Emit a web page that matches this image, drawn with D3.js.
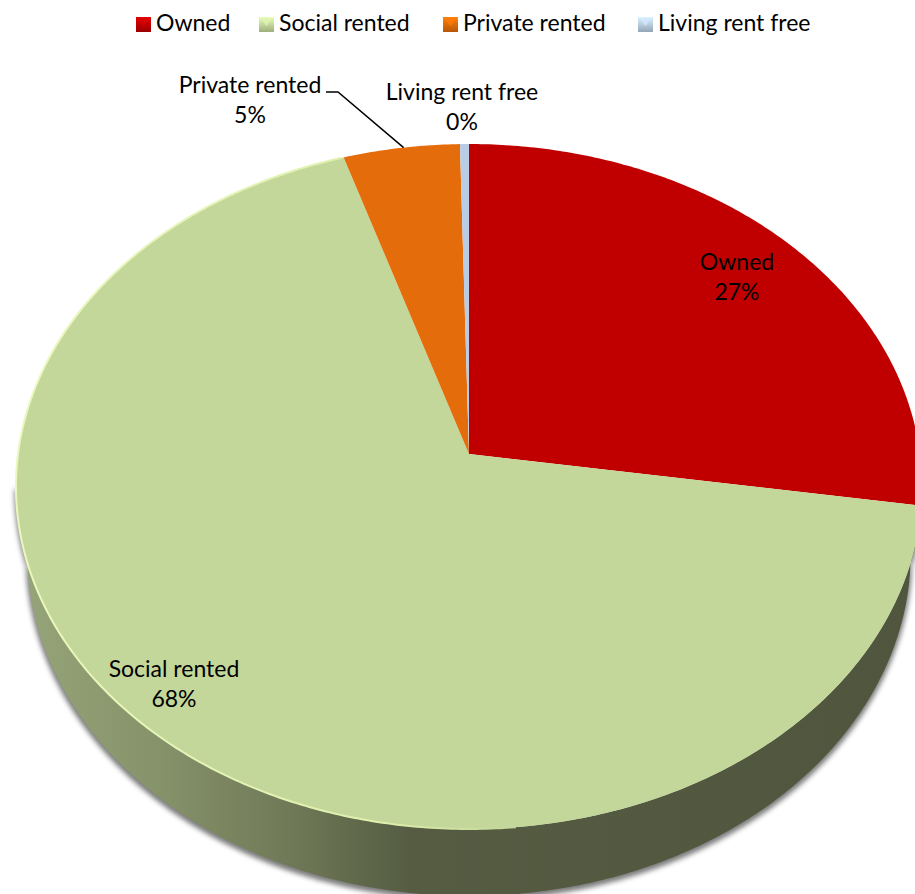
<!DOCTYPE html>
<html>
<head>
<meta charset="utf-8">
<script src="https://cdn.jsdelivr.net/npm/d3@7"></script>
<style>
  html, body { margin: 0; padding: 0; background: #fff; }
  svg { display: block; }
  text { font-family: Lato, "Open Sans", sans-serif; fill: #000; }
</style>
</head>
<body>
<div id="chart-container"></div>
<script>
// Chart data
const categories = ["Owned", "Social rented", "Private rented", "Living rent free"];
const shares = [27.4, 67.7, 4.55, 0.35];
const shareLabels = ["27%", "68%", "5%", "0%"];
const colors = ["#c00000", "#c4d79b", "#e46c0a", "#b8cce4"];

const width = 915;
const height = 894;

// Perspective tilt of the pie: apex sits above the centre of the ellipse
const apex = { x: 469, y: 454 };
const radiusX = 451;
const radiusY = 339.4;
const tilt = 0.0949;
const depth = 67;
const baseShrink = 0.975; // the underside is further away, so a little narrower

// Turn a pie angle (clockwise from 12 o'clock) into a screen point
const project = (angle, r = 1) => {
  const u = r * Math.sin(angle);
  const v = -r * Math.cos(angle);
  const w = 1 - tilt * v;
  return [apex.x + radiusX * u / w, apex.y + radiusY * v / w];
};

const line = d3.line();
const sampleArc = (a0, a1) => {
  const n = Math.max(2, Math.ceil(Math.abs(a1 - a0) / 0.01));
  return d3.range(n + 1).map(i => project(a0 + (a1 - a0) * i / n));
};

const svg = d3.select("#chart-container")
  .append("svg")
  .attr("width", width)
  .attr("height", height);

const defs = svg.append("defs");

defs.append("filter").attr("id", "wall-blur")
  .attr("x", "-5%").attr("y", "-5%").attr("width", "110%").attr("height", "110%")
  .append("feGaussianBlur").attr("stdDeviation", 2.5);

defs.append("filter").attr("id", "soft")
  .append("feGaussianBlur").attr("stdDeviation", 0.6);

// Side wall fades from sage on the left to dark olive past the middle
const wallGrad = defs.append("linearGradient").attr("id", "wall")
  .attr("gradientUnits", "userSpaceOnUse")
  .attr("x1", 15).attr("x2", 915).attr("y1", 0).attr("y2", 0);
[[0, "#97a57a"], [0.15, "#87946b"], [0.3, "#717a58"], [0.44, "#555c42"], [1, "#50563d"]]
  .forEach(([o, c]) => wallGrad.append("stop").attr("offset", o).attr("stop-color", c));

const rimGrad = defs.append("linearGradient").attr("id", "rim")
  .attr("gradientUnits", "userSpaceOnUse")
  .attr("x1", 15).attr("x2", 915).attr("y1", 0).attr("y2", 0);
[[0, "#eaf8bd"], [0.4, "#dff0ae"], [0.55, "#c4d79b"], [1, "#c4d79b"]]
  .forEach(([o, c]) => rimGrad.append("stop").attr("offset", o).attr("stop-color", c));

// Bevelled legend keys
colors.forEach((c, i) => {
  const g = defs.append("linearGradient").attr("id", "key" + i)
    .attr("x1", 0).attr("x2", 0).attr("y1", 0).attr("y2", 1);
  g.append("stop").attr("offset", 0).attr("stop-color", d3.color(c).brighter(0.5));
  g.append("stop").attr("offset", 1).attr("stop-color", d3.color(c).darker(0.6));
});

const pie = d3.pie().sort(null);
const slices = pie(shares);

// Wall outline: lower part of the disc, from its widest points, and the same edge pushed down
const wallStart = Math.PI / 2 + Math.asin(tilt);
const wallEnd = 3 * Math.PI / 2 - Math.asin(tilt);
const lowerEdge = sampleArc(wallStart, wallEnd);
const wallOutline = lowerEdge.concat(lowerEdge.slice().reverse()
  .map(([x, y]) => [apex.x + (x - apex.x) * baseShrink, y + depth]));

svg.append("path")
  .attr("d", line(wallOutline) + "Z")
  .attr("transform", "translate(0,3)")
  .attr("fill", "#444")
  .attr("stroke", "#444")
  .attr("stroke-width", 3)
  .attr("opacity", 0.7)
  .attr("filter", "url(#wall-blur)");

svg.append("path")
  .attr("d", line(wallOutline) + "Z")
  .attr("fill", "url(#wall)");

// Top face
svg.append("g").selectAll("path")
  .data(slices)
  .enter().append("path")
  .attr("d", d => line([[apex.x, apex.y]].concat(sampleArc(d.startAngle, d.endAngle))) + "Z")
  .attr("fill", (d, i) => colors[i]);

// Pale highlight along the near-left edge of the disc
svg.append("path")
  .attr("d", line(sampleArc(Math.PI * 0.97, Math.PI * 1.9)))
  .attr("fill", "none")
  .attr("stroke", "url(#rim)")
  .attr("stroke-width", 2)
  .attr("filter", "url(#soft)");

// Data labels
const labelAnchors = [[737, 270], [174, 677], [250, 93], [462, 100]];
const labels = svg.append("g").selectAll("text")
  .data(categories)
  .enter().append("text")
  .attr("x", (d, i) => labelAnchors[i][0])
  .attr("y", (d, i) => labelAnchors[i][1])
  .attr("text-anchor", "middle")
  .attr("font-size", 23);
labels.append("tspan").text(d => d);
labels.append("tspan")
  .attr("x", (d, i) => labelAnchors[i][0])
  .attr("dy", 30)
  .text((d, i) => shareLabels[i]);

// Leader line for the private rented label, ending on its slice's edge
const privateSlice = slices[2];
const leaderEnd = project(privateSlice.startAngle + (privateSlice.endAngle - privateSlice.startAngle) * 0.52);
svg.append("path")
  .attr("d", line([[326, 92], [338, 92], leaderEnd]))
  .attr("fill", "none")
  .attr("stroke", "#000")
  .attr("stroke-width", 1.5);

// Legend
const keyLefts = [136, 259, 443, 638];
const legend = svg.append("g").selectAll("g")
  .data(categories)
  .enter().append("g")
  .attr("transform", (d, i) => `translate(${keyLefts[i]},0)`);
legend.append("rect")
  .attr("x", 0).attr("y", 17)
  .attr("width", 15).attr("height", 15)
  .attr("fill", (d, i) => `url(#key${i})`);
legend.append("path")
  .attr("d", "M2,19 L13,19 L7.5,26 Z")
  .attr("fill", (d, i) => d3.color(colors[i]).brighter(0.35))
  .attr("opacity", 0.8);
legend.append("text")
  .attr("x", 20).attr("y", 31)
  .attr("font-size", 23)
  .text(d => d);
</script>
</body>
</html>
